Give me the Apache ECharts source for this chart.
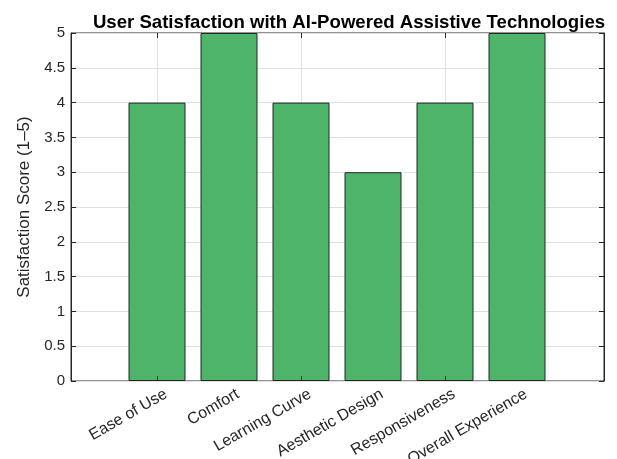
<!DOCTYPE html>
<html>
<head>
	<meta charset="UTF-8" />
	<title>User Satisfaction</title>
	<script src="https://cdn.jsdelivr.net/npm/echarts@6/dist/echarts.min.js"></script>
	<style type="text/css">
		body { margin: 0; background-color: #ffffff; }
		#chart { width: 617px; height: 459px; }
	</style>
</head>
<body>
	<div id="chart"></div>
	<script>
		// data
		const categories = ['Ease of Use', 'Comfort', 'Learning Curve', 'Aesthetic Design', 'Responsiveness', 'Overall Experience'];
		const scores = [4, 5, 4, 3, 4, 5];
		const yTicks = [0, 0.5, 1, 1.5, 2, 2.5, 3, 3.5, 4, 4.5, 5];

		const ink = '#262626';
		const gridGray = '#e0e0e0';
		const font = 'Liberation Sans, Arial, sans-serif';

		const chart = echarts.init(document.getElementById('chart'));

		// grid 0 = the whole box (frame, y axis, horizontal grid)
		// grid 1 = centres of first to last bar (category axis)
		// grid 2 = same as grid 1 shifted right, only for the rotated labels
		const box = { left: 71, right: 13, top: 33, bottom: 78, outerBoundsMode: 'none' };
		const inner = { left: 157, right: 100, top: 33, bottom: 78, outerBoundsMode: 'none' };
		const labelShift = 9;

		const yBase = {
			type: 'value', gridIndex: 0, min: yTicks[0], max: yTicks[yTicks.length - 1], interval: 0.5
		};

		chart.setOption({
			animation: false,
			title: {
				text: 'User Satisfaction with AI-Powered Assistive Technologies',
				left: 344, top: 8, textAlign: 'center',
				textStyle: { fontFamily: font, fontSize: 18.6, fontWeight: 'bold', color: '#000' }
			},
			grid: [
				Object.assign({ show: true, borderColor: ink, borderWidth: 1, backgroundColor: '#fff' }, box),
				inner,
				Object.assign({}, inner, { left: inner.left + labelShift, right: inner.right - labelShift })
			],
			xAxis: [
				{ type: 'value', gridIndex: 0, min: 0, max: 1, show: false },
				{
					type: 'category', gridIndex: 1, position: 'bottom', data: categories, boundaryGap: false, z: 10,
					axisLine: { show: false },
					axisTick: { inside: true, length: 5, lineStyle: { color: ink } },
					axisLabel: { show: false },
					splitLine: { show: false }
				},
				{
					type: 'category', gridIndex: 1, position: 'top', data: categories, boundaryGap: false, z: 10,
					axisLine: { show: false },
					axisTick: { inside: true, length: 5, lineStyle: { color: ink } },
					axisLabel: { show: false }
				},
				{
					type: 'category', gridIndex: 1, position: 'bottom', data: categories, boundaryGap: false, z: 0,
					axisLine: { show: false }, axisTick: { show: false }, axisLabel: { show: false },
					splitLine: { show: true, lineStyle: { color: gridGray, width: 1 } }
				},
				{
					type: 'category', gridIndex: 2, position: 'bottom', data: categories, boundaryGap: false,
					axisLine: { show: false }, axisTick: { show: false }, splitLine: { show: false },
					axisLabel: { rotate: 30, margin: 12, interval: 0, color: ink, fontFamily: font, fontSize: 16 }
				}
			],
			yAxis: [
				Object.assign({}, yBase, {
					position: 'left', z: 10,
					axisLine: { show: true, lineStyle: { color: ink } },
					axisTick: { show: true, inside: true, length: 5, lineStyle: { color: ink } },
					axisLabel: { margin: 6, color: ink, fontFamily: font, fontSize: 15 },
					splitLine: { show: false },
					name: 'Satisfaction Score (1–5)', nameLocation: 'middle', nameGap: 38,
					nameTextStyle: { color: ink, fontFamily: font, fontSize: 17 }
				}),
				Object.assign({}, yBase, {
					position: 'right', z: 10,
					axisLine: { show: true, lineStyle: { color: ink } },
					axisTick: { show: true, inside: true, length: 5, lineStyle: { color: ink } },
					axisLabel: { show: false },
					splitLine: { show: false }
				}),
				Object.assign({}, yBase, {
					z: 0,
					axisLine: { show: false }, axisTick: { show: false }, axisLabel: { show: false },
					splitLine: { show: true, lineStyle: { color: gridGray, width: 1 } }
				}),
				{ type: 'value', gridIndex: 1, min: 0, max: 5, show: false },
				{ type: 'value', gridIndex: 2, min: 0, max: 5, show: false }
			],
			series: [{
				type: 'bar',
				xAxisIndex: 1,
				yAxisIndex: 3,
				data: scores,
				barWidth: 57,
				clip: false,
				itemStyle: { color: '#4db46a', borderColor: ink, borderWidth: 1 }
			}]
		});
	</script>
</body>
</html>
